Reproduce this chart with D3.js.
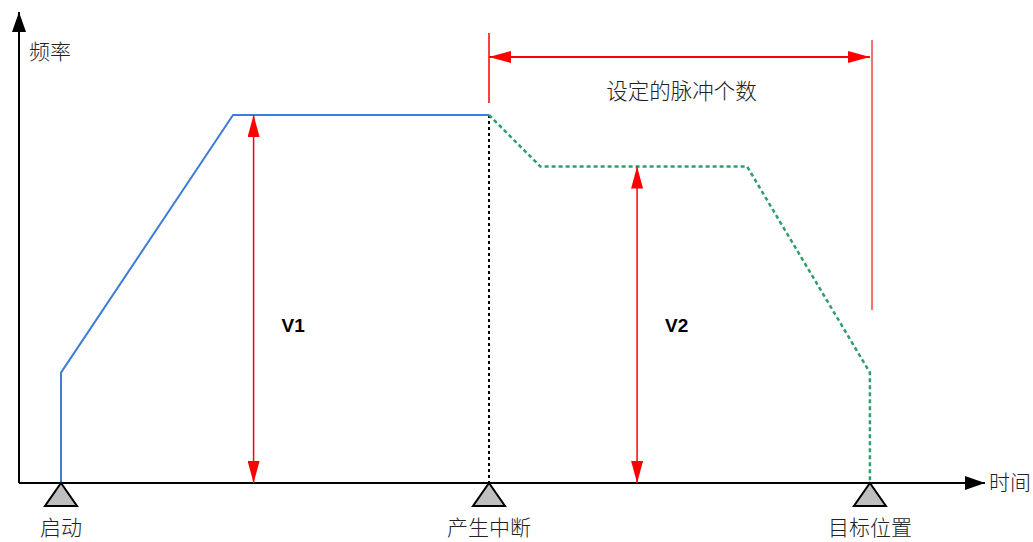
<!DOCTYPE html>
<head>
<meta charset="utf-8">
<title>pulse chart</title>
<script src="https://d3js.org/d3.v7.min.js"></script>
<style type="text/css">
body { margin: 0; background: #fff; }
text { font-family: "Noto Sans CJK SC", "Noto Sans", sans-serif; font-weight: 300; }
</style>
</head>

<body>
<script type="text/javascript">

// chart data (time units / frequency units)
const blueT = [0, 0, 4.02, 10];
const blueF = [0, 3.0, 10, 10];
const greenT = [10, 11.2, 16.03, 18.9, 18.9];
const greenF = [10, 8.6, 8.6, 3.0, 0];
const markT = [0, 10, 18.9];
const markLabels = ["启动", "产生中断", "目标位置"];
const v1 = {t: 4.5, f: 10, label: "V1"};
const v2 = {t: 13.46, f: 8.6, label: "V2"};
const pulseLabel = "设定的脉冲个数";

const svgW = 1033, svgH = 542;

const x = d3.scaleLinear().domain([0, 10]).range([61, 489]);
const y = d3.scaleLinear().domain([0, 10]).range([483, 115]);

const svg = d3.select("body").append("svg")
    .attr("width", svgW).attr("height", svgH);

const defs = svg.append("defs");
function marker(id, color, w, h) {
    defs.append("marker").attr("id", id)
        .attr("viewBox", "0 0 " + w + " " + h)
        .attr("refX", w).attr("refY", h / 2)
        .attr("markerWidth", w).attr("markerHeight", h)
        .attr("markerUnits", "userSpaceOnUse")
        .attr("orient", "auto-start-reverse")
        .append("path").attr("d", "M0,0L" + w + "," + (h / 2) + "L0," + h + "Z")
        .attr("fill", color);
}
marker("ablack", "#000", 20, 14);
marker("ared", "red", 22, 12);

const line = d3.line().x(d => x(d[0])).y(d => y(d[1]));

// axes
const x0 = 19;
svg.append("line").attr("x1", x0).attr("y1", y(0)).attr("x2", 985).attr("y2", y(0))
    .attr("stroke", "#000").attr("stroke-width", 2).attr("marker-end", "url(#ablack)");
svg.append("line").attr("x1", x0).attr("y1", y(0)).attr("x2", x0).attr("y2", 12)
    .attr("stroke", "#000").attr("stroke-width", 2).attr("marker-end", "url(#ablack)");

svg.append("text").attr("x", 29).attr("y", 59).attr("font-size", 21).attr("fill", "#222").text("频率");
svg.append("text").attr("x", 989).attr("y", 490).attr("font-size", 21).attr("fill", "#222").text("时间");

// interrupt dotted line
svg.append("line").attr("x1", x(10)).attr("x2", x(10)).attr("y1", y(10)).attr("y2", y(0))
    .attr("stroke", "#000").attr("stroke-width", 2).attr("stroke-dasharray", "3,3");

// blue curve
svg.append("path").attr("d", line(blueT.map((t, i) => [t, blueF[i]])))
    .attr("fill", "none").attr("stroke", "#3b7dd8").attr("stroke-width", 2);

// green dashed curve
svg.append("path").attr("d", line(greenT.map((t, i) => [t, greenF[i]])))
    .attr("fill", "none").attr("stroke", "#2e9e6a").attr("stroke-width", 2.5)
    .attr("stroke-dasharray", "4,3");

// V arrows
[v1, v2].forEach(v => {
    svg.append("line").attr("x1", x(v.t)).attr("x2", x(v.t))
        .attr("y1", y(0)).attr("y2", y(v.f))
        .attr("stroke", "red").attr("stroke-width", 1.5)
        .attr("marker-start", "url(#ared)").attr("marker-end", "url(#ared)");
    svg.append("text").attr("x", x(v.t) + 28).attr("y", y(4.1))
        .style("font-family", "Arial, 'Liberation Sans', sans-serif")
        .style("font-weight", "bold").attr("font-size", 19).attr("fill", "#000")
        .text(v.label);
});

// pulse count span
svg.append("line").attr("x1", x(10)).attr("x2", x(10)).attr("y1", 33).attr("y2", 103)
    .attr("stroke", "red").attr("stroke-width", 1.5);
svg.append("line").attr("x1", x(18.95)).attr("x2", x(18.95)).attr("y1", 40).attr("y2", 310)
    .attr("stroke", "#f07070").attr("stroke-width", 2);
svg.append("line").attr("x1", x(10)).attr("x2", x(18.9)).attr("y1", 57).attr("y2", 57)
    .attr("stroke", "red").attr("stroke-width", 2)
    .attr("marker-start", "url(#ared)").attr("marker-end", "url(#ared)");
svg.append("text").attr("x", (x(10) + x(18.9)) / 2 + 2).attr("y", 99)
    .attr("text-anchor", "middle").attr("font-size", 21.5).attr("fill", "#222").text(pulseLabel);

// triangle markers and labels
const g = svg.selectAll("g.mark").data(markT).enter().append("g")
    .attr("class", "mark")
    .attr("transform", d => "translate(" + [x(d), y(0)] + ")");
g.append("path").attr("d", "M0,0L16,23L-16,23Z")
    .attr("fill", "#bfbfbf").attr("stroke", "#000").attr("stroke-width", 2)
    .attr("stroke-linejoin", "miter");
g.append("text").attr("y", 52).attr("text-anchor", "middle")
    .attr("font-size", 21).attr("fill", "#222")
    .text((d, i) => markLabels[i]);

</script>
</body>
